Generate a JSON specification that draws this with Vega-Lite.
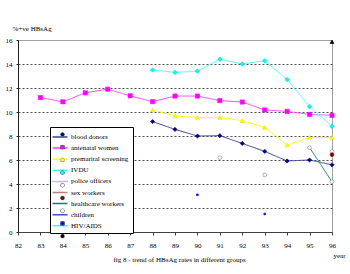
{
  "$schema": "https://vega.github.io/schema/vega-lite/v6.json",
  "width": 314,
  "height": 192,
  "autosize": "none",
  "padding": {"left": 18, "top": 40, "right": 18, "bottom": 42},
  "background": "white",
  "config": {
    "view": {"stroke": "#a0a0a0", "strokeWidth": 1},
    "font": "Liberation Serif",
    "axis": {"labelFont": "Liberation Serif", "titleFont": "Liberation Serif", "labelFontSize": 7, "titleFontSize": 7, "titleFontWeight": "normal", "labelColor": "#000000", "titleColor": "#000000"},
    "legend": {"labelFont": "Liberation Serif", "labelFontSize": 7, "labelColor": "#000000"}
  },
  "data": {
    "values": [
      {"group": "blood donors", "year": 88, "value": 9.2},
      {"group": "blood donors", "year": 89, "value": 8.55},
      {"group": "blood donors", "year": 90, "value": 8.0},
      {"group": "blood donors", "year": 91, "value": 8.03},
      {"group": "blood donors", "year": 92, "value": 7.38},
      {"group": "blood donors", "year": 93, "value": 6.72},
      {"group": "blood donors", "year": 94, "value": 5.92},
      {"group": "blood donors", "year": 95, "value": 6.0},
      {"group": "blood donors", "year": 96, "value": 5.6},
      {"group": "antenatal women", "year": 83, "value": 11.2},
      {"group": "antenatal women", "year": 84, "value": 10.85},
      {"group": "antenatal women", "year": 85, "value": 11.6},
      {"group": "antenatal women", "year": 86, "value": 11.9},
      {"group": "antenatal women", "year": 87, "value": 11.35},
      {"group": "antenatal women", "year": 88, "value": 10.86},
      {"group": "antenatal women", "year": 89, "value": 11.33},
      {"group": "antenatal women", "year": 90, "value": 11.33},
      {"group": "antenatal women", "year": 91, "value": 10.95},
      {"group": "antenatal women", "year": 92, "value": 10.83},
      {"group": "antenatal women", "year": 93, "value": 10.17},
      {"group": "antenatal women", "year": 94, "value": 10.05},
      {"group": "antenatal women", "year": 95, "value": 9.8},
      {"group": "antenatal women", "year": 96, "value": 9.72},
      {"group": "premarital screening", "year": 88, "value": 10.17},
      {"group": "premarital screening", "year": 89, "value": 9.67},
      {"group": "premarital screening", "year": 90, "value": 9.55},
      {"group": "premarital screening", "year": 91, "value": 9.55},
      {"group": "premarital screening", "year": 92, "value": 9.28},
      {"group": "premarital screening", "year": 93, "value": 8.72},
      {"group": "premarital screening", "year": 94, "value": 7.25},
      {"group": "premarital screening", "year": 95, "value": 7.88},
      {"group": "premarital screening", "year": 96, "value": 7.88},
      {"group": "IVDU", "year": 88, "value": 13.5},
      {"group": "IVDU", "year": 89, "value": 13.3},
      {"group": "IVDU", "year": 90, "value": 13.4},
      {"group": "IVDU", "year": 91, "value": 14.4},
      {"group": "IVDU", "year": 92, "value": 14.0},
      {"group": "IVDU", "year": 93, "value": 14.27},
      {"group": "IVDU", "year": 94, "value": 12.7},
      {"group": "IVDU", "year": 95, "value": 10.45},
      {"group": "IVDU", "year": 96, "value": 8.8},
      {"group": "police officers", "year": 91, "value": 6.19},
      {"group": "police officers", "year": 93, "value": 4.75},
      {"group": "police officers", "year": 96, "value": 6.72},
      {"group": "sex workers", "year": 96, "value": 6.44},
      {"group": "healthcare workers", "year": 95, "value": 7.03},
      {"group": "healthcare workers", "year": 96, "value": 4.19},
      {"group": "children", "year": 90, "value": 3.1},
      {"group": "children", "year": 93, "value": 1.5},
      {"group": "HIV/AIDS", "year": 96, "value": 15.85}
    ]
  },
  "layer": [
    {
      "transform": [{"filter": {"field": "group", "oneOf": ["blood donors", "antenatal women", "premarital screening", "IVDU", "healthcare workers"]}}],
      "mark": {"type": "line", "strokeWidth": 1},
      "encoding": {
        "x": {
          "field": "year", "type": "quantitative",
          "scale": {"domain": [82, 96], "nice": false, "zero": false},
          "axis": {
            "values": [82, 83, 84, 85, 86, 87, 88, 89, 90, 91, 92, 93, 94, 95, 96],
            "tickCount": 15,
            "format": "d", "grid": false, "domainColor": "#404040", "tickColor": "#404040", "tickSize": 3, "labelPadding": 6,
            "labelOverlap": false, "labelFlush": false,
            "title": "fig 8 - trend of HBsAg rates in different groups",
            "titleX": 161, "titleY": 27, "titleAlign": "center", "titleBaseline": "middle"
          }
        },
        "y": {
          "field": "value", "type": "quantitative",
          "scale": {"domain": [0, 16], "nice": false, "zero": true},
          "axis": {
            "values": [0, 2, 4, 6, 8, 10, 12, 14, 16],
            "domainColor": "#202020", "tickColor": "#202020", "tickSize": 2, "labelPadding": 4,
            "labelOverlap": false, "labelFlush": false,
            "grid": true,
            "gridDash": {"condition": {"test": "datum.value == 16", "value": [1, 0]}, "value": [2, 2]},
            "gridColor": {"condition": {"test": "datum.value == 16", "value": "#a0a0a0"}, "value": "#505050"},
            "gridOpacity": {"condition": {"test": "datum.value == 0", "value": 0}, "value": 1},
            "title": "%+ve HBsAg", "titleAngle": 0, "titleAlign": "left", "titleBaseline": "middle",
            "titleX": -6, "titleY": -12
          }
        },
        "stroke": {
          "field": "group", "type": "nominal",
          "scale": {
            "domain": ["blood donors", "antenatal women", "premarital screening", "IVDU", "police officers", "sex workers", "healthcare workers", "children", "HIV/AIDS"],
            "range": ["#3c3c9c", "#ff40ff", "#ffff00", "#40ffff", "#ff40ff", "#c08080", "#008080", "#4848c0", "#40ffff"]
          },
          "legend": {
            "title": null, "orient": "none", "legendX": 32, "legendY": 87,
            "symbolType": "M-1.5,0H1.5", "symbolSize": 100, "symbolStrokeWidth": 1.5,
            "fillColor": "white", "strokeColor": "#000000", "padding": 4, "rowPadding": 2.1, "labelOffset": 5
          }
        },
        "strokeDash": {
          "field": "group", "type": "nominal",
          "scale": {
            "domain": ["blood donors", "antenatal women", "premarital screening", "IVDU", "police officers", "sex workers", "healthcare workers", "children", "HIV/AIDS"],
            "range": [[1, 0], [1, 0], [1, 0], [1, 0], [1, 1], [1, 0], [1, 0], [1, 0], [1, 0]]
          },
          "legend": {
            "title": null, "orient": "none", "legendX": 32, "legendY": 87,
            "symbolType": "M-1.5,0H1.5", "symbolSize": 100, "symbolStrokeWidth": 1.5,
            "fillColor": "white", "strokeColor": "#000000", "padding": 4, "rowPadding": 2.1, "labelOffset": 5
          }
        }
      }
    },
    {
      "mark": {"type": "point", "filled": true, "strokeWidth": 0.6, "opacity": 1},
      "encoding": {
        "x": {
          "field": "year", "type": "quantitative",
          "axis": {
            "values": [82, 83, 84, 85, 86, 87, 88, 89, 90, 91, 92, 93, 94, 95, 96],
            "tickCount": 15,
            "format": "d", "grid": false, "domainColor": "#404040", "tickColor": "#404040", "tickSize": 3, "labelPadding": 6,
            "labelOverlap": false, "labelFlush": false,
            "title": "fig 8 - trend of HBsAg rates in different groups",
            "titleX": 161, "titleY": 27, "titleAlign": "center", "titleBaseline": "middle"
          }
        },
        "y": {
          "field": "value", "type": "quantitative",
          "axis": {
            "orient": "right", "labels": false, "ticks": false, "domain": false, "grid": false,
            "title": "year", "titleAngle": 0, "titleAlign": "left", "titleBaseline": "middle", "titleX": 1, "titleY": 215
          }
        },
        "fill": {
          "field": "group", "type": "nominal",
          "sort": ["blood donors", "antenatal women", "premarital screening", "IVDU", "police officers", "sex workers", "healthcare workers", "children", "HIV/AIDS"],
          "scale": {"range": ["#000080", "#ff00ff", "#ffff00", "#00ffff", "#ffffff", "#800000", "#ffffff", "#0000ff", "#000000"]},
          "legend": {
            "title": null, "orient": "none", "legendX": 37, "legendY": 87, "zindex": 1,
            "symbolSize": 16, "symbolStrokeColor": "#808080", "symbolStrokeWidth": 0.5,
            "labelExpr": "''", "padding": 4, "rowPadding": 4.7, "labelOffset": 2
          }
        },
        "shape": {
          "field": "group", "type": "nominal",
          "sort": ["blood donors", "antenatal women", "premarital screening", "IVDU", "police officers", "sex workers", "healthcare workers", "children", "HIV/AIDS"],
          "scale": {"range": ["diamond", "square", "triangle-up", "cross", "circle", "circle", "circle", "square", "triangle-up"]},
          "legend": {
            "title": null, "orient": "none", "legendX": 37, "legendY": 87, "zindex": 1,
            "symbolSize": 16, "symbolStrokeColor": "#808080", "symbolStrokeWidth": 0.5,
            "labelExpr": "''", "padding": 4, "rowPadding": 4.7, "labelOffset": 2
          }
        },
        "size": {
          "field": "group", "type": "nominal",
          "sort": ["blood donors", "antenatal women", "premarital screening", "IVDU", "police officers", "sex workers", "healthcare workers", "children", "HIV/AIDS"],
          "scale": {"type": "ordinal", "range": [18, 18, 18, 14, 14, 14, 14, 3, 16]},
          "legend": null
        },
        "stroke": {
          "field": "group", "type": "nominal",
          "scale": {
            "domain": ["blood donors", "antenatal women", "premarital screening", "IVDU", "police officers", "sex workers", "healthcare workers", "children", "HIV/AIDS"],
            "range": ["#000080", "#ff00ff", "#e0e000", "#00e0e0", "#808080", "#800000", "#808080", "#0000ff", "#000000"]
          },
          "legend": null
        }
      }
    }
  ],
  "resolve": {"scale": {"stroke": "independent", "strokeDash": "independent"}, "axis": {"y": "independent"}}
}
